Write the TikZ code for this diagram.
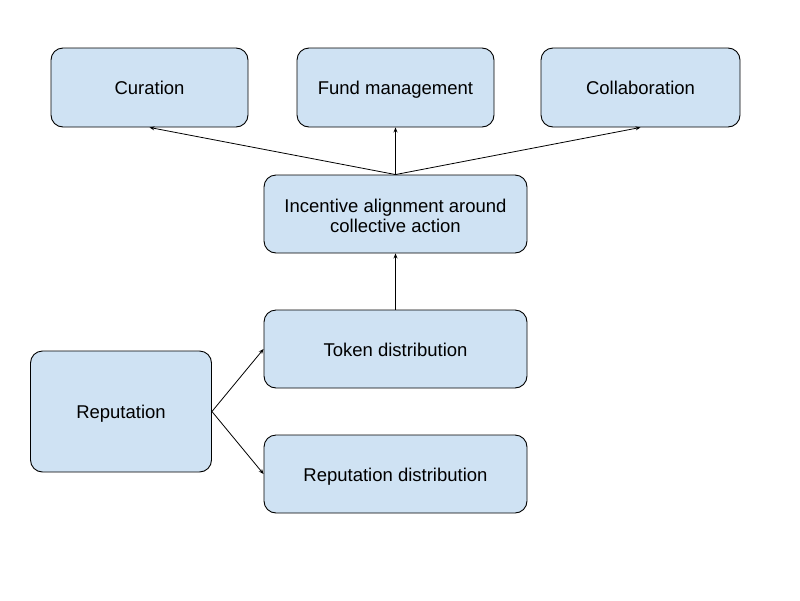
\documentclass[tikz,border=0pt]{standalone}
\usepackage{fontspec}
\setmainfont{Liberation Sans}
\usetikzlibrary{arrows.meta}
\definecolor{boxfill}{HTML}{CFE2F3}
\begin{document}
\begin{tikzpicture}[x=1pt,y=-1pt,
  box/.style={draw=black,fill=boxfill,rounded corners=12pt,line width=0.9pt,
    inner sep=0pt,align=center,font=\fontsize{18.5}{20}\selectfont},
  oneline/.style={text height=17pt,text depth=3pt},
  conn/.style={-{Stealth[length=5pt,width=4pt]},line width=0.8pt}]
\useasboundingbox (0,0) rectangle (800,600);
\node[box,oneline,minimum width=197pt,minimum height=79pt] (cur) at (149.5,87.5) {Curation};
\node[box,oneline,minimum width=197pt,minimum height=79pt] (fund) at (395.5,87.5) {Fund management};
\node[box,oneline,minimum width=199pt,minimum height=79pt] (col) at (640.5,87.5) {Collaboration};
\node[box,minimum width=263pt,minimum height=78pt] (inc) at (395.5,214) {\rule{0pt}{17.4pt}Incentive alignment around\\collective action};
\node[box,oneline,minimum width=263pt,minimum height=78pt] (tok) at (395.5,349) {Token distribution};
\node[box,oneline,minimum width=181pt,minimum height=121pt] (rep) at (121,411.5) {Reputation};
\node[box,oneline,minimum width=263pt,minimum height=78pt] (rdist) at (395.5,474) {Reputation distribution};
\draw[conn] (inc.north) -- (cur.south);
\draw[conn] (inc.north) -- (fund.south);
\draw[conn] (inc.north) -- (col.south);
\draw[conn] (tok.north) -- (inc.south);
\draw[conn] (rep.east) -- (tok.west);
\draw[conn] (rep.east) -- (rdist.west);
\end{tikzpicture}
\end{document}
